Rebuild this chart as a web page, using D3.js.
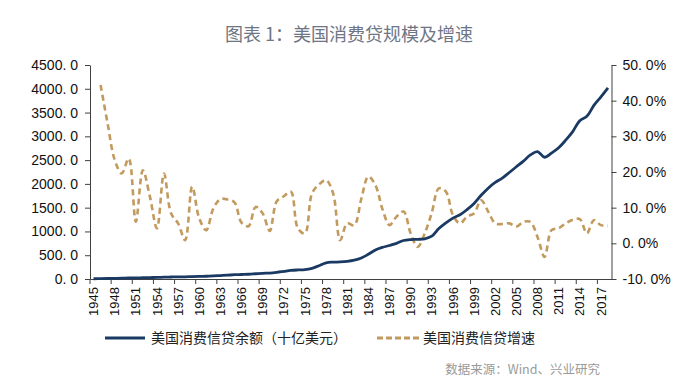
<!DOCTYPE html>
<html>
<head>
<meta charset="utf-8">
<script src="https://cdn.jsdelivr.net/npm/d3@7"></script>
<style>
  body { margin: 0; background: #fff; }
  svg { display: block; font-family: "Liberation Sans", Arial, sans-serif; }
  .cjk { font-family: "Noto Sans CJK SC", sans-serif; }
</style>
</head>
<body>
<div id="chart"></div>
<script>
// categories
const years = d3.range(1945, 2019);

// 美国消费信贷余额（十亿美元）
const balance = [
  5, 8, 11, 14, 17, 21, 22, 27, 31, 33,
  39, 42, 45, 46, 52, 56, 58, 64, 72, 80,
  90, 95, 100, 110, 120, 125, 140, 160, 180, 190,
  196, 225, 280, 340, 355, 358, 370, 395, 440, 520,
  610, 665, 705, 750, 810, 830, 835, 845, 900, 1060,
  1180, 1280, 1350, 1460, 1590, 1760, 1910, 2030, 2120, 2240,
  2360, 2480, 2610, 2680, 2560, 2650, 2760, 2920, 3100, 3330,
  3420, 3650, 3830, 4020
];

// 美国消费信贷增速 (%)
const growth = [
  null, 44.4, 33.6, 23.4, 19.6, 23.8, 6.1, 20.5, 13.1, 4.2,
  19.6, 8.4, 5.6, 0.9, 15.9, 7.0, 3.7, 9.8, 12.4, 12.3,
  11.5, 5.8, 4.8, 10.2, 8.4, 3.5, 11.8, 13.2, 14.5, 4.2,
  2.8, 14.0, 16.5, 17.7, 14.0, 0.9, 5.6, 5.1, 12.5, 18.7,
  16.3, 9.6, 5.1, 7.5, 8.9, 2.8, -1.0, 2.8, 8.6, 15.4,
  14.5, 7.9, 5.6, 7.5, 8.4, 12.1, 8.9, 5.6, 5.4, 5.6,
  4.7, 6.0, 6.0, 1.8, -3.8, 3.7, 4.2, 5.6, 6.6, 6.8,
  2.8, 6.5, 5.1, 4.9
];

const leftTicks = [0, 500, 1000, 1500, 2000, 2500, 3000, 3500, 4000, 4500];
const rightTicks = [-10, 0, 10, 20, 30, 40, 50];
const labelYears = years.filter(y => (y - 1945) % 3 === 0);

const title = "图表 1：美国消费贷规模及增速";
const seriesNames = ["美国消费信贷余额（十亿美元）", "美国消费信贷增速"];
const source = "数据来源：Wind、兴业研究";

const width = 700, height = 384;
const plotLeft = 90, plotRight = 611.5, plotTop = 65, plotBottom = 279;
const blue = "#1b3a63", tan = "#c29a5e", axisColor = "#404040";

let svg = d3.select("#chart").append("svg")
  .attr("width", width)
  .attr("height", height);

let x = d3.scaleBand().domain(years).range([plotLeft, plotRight]).padding(0);
let yL = d3.scaleLinear().domain([0, 4500]).range([plotBottom, plotTop]);
let yR = d3.scaleLinear().domain([-10, 50]).range([plotBottom, plotTop]);
let cx = d => x(d) + x.bandwidth() / 2;

let fmt = f => v => d3.format(f)(v).replace("\u2212", "-").replace(".", ". ");

// title
svg.append("text")
  .attr("class", "cjk")
  .attr("x", 349).attr("y", 41)
  .attr("text-anchor", "middle")
  .attr("font-size", 18)
  .attr("fill", "#6e7686")
  .text(title);

// left axis
let gL = svg.append("g")
  .attr("transform", "translate(" + plotLeft + ",0)")
  .call(d3.axisLeft(yL).tickValues(leftTicks).tickSize(5).tickSizeOuter(0).tickFormat(fmt(".1f")));

// right axis
let gR = svg.append("g")
  .attr("transform", "translate(" + plotRight + ",0)")
  .call(d3.axisRight(yR).tickValues(rightTicks).tickSize(5).tickSizeOuter(0).tickFormat(v => fmt(".1f")(v) + "%"));

// x axis
let gX = svg.append("g")
  .attr("transform", "translate(0," + plotBottom + ")")
  .call(d3.axisBottom(x).tickValues(labelYears).tickSize(5).tickSizeOuter(0));

gX.selectAll(".tick line")
  .attr("x1", -x.bandwidth() / 2)
  .attr("x2", -x.bandwidth() / 2);

gX.selectAll(".tick text")
  .attr("transform", "rotate(-90)")
  .attr("x", -8)
  .attr("y", 0)
  .attr("dy", "0.36em")
  .attr("text-anchor", "end")
  .attr("font-size", 13);

gL.selectAll(".tick text").attr("font-size", 14).attr("x", -12);
gR.selectAll(".tick text").attr("font-size", 14).attr("x", 11);

[gL, gR, gX].forEach(g => {
  g.selectAll("path, line").attr("stroke", axisColor);
  g.selectAll("text").attr("fill", "#111").attr("font-family", "\"Liberation Sans\", Arial, sans-serif");
});

// lines
let lineL = d3.line()
  .x((d, i) => cx(years[i]))
  .y(d => yL(d))
  .curve(d3.curveCatmullRom.alpha(0.5));

let lineR = d3.line()
  .defined(d => d != null)
  .x((d, i) => cx(years[i]))
  .y(d => yR(d))
  .curve(d3.curveCatmullRom.alpha(0.5));

svg.append("path")
  .datum(growth)
  .attr("fill", "none")
  .attr("stroke", tan)
  .attr("stroke-width", 2.6)
  .attr("stroke-dasharray", "6,4")
  .attr("d", lineR);

svg.append("path")
  .datum(balance)
  .attr("fill", "none")
  .attr("stroke", blue)
  .attr("stroke-width", 2.8)
  .attr("d", lineL);

// legend
let legend = svg.append("g");
legend.append("line")
  .attr("x1", 105).attr("x2", 145).attr("y1", 338).attr("y2", 338)
  .attr("stroke", blue).attr("stroke-width", 3);
legend.append("text")
  .attr("class", "cjk")
  .attr("x", 151).attr("y", 343)
  .attr("font-size", 14).attr("fill", "#222")
  .text(seriesNames[0]);
legend.append("line")
  .attr("x1", 377).attr("x2", 421).attr("y1", 338).attr("y2", 338)
  .attr("stroke", tan).attr("stroke-width", 3)
  .attr("stroke-dasharray", "6,3");
legend.append("text")
  .attr("class", "cjk")
  .attr("x", 423).attr("y", 343)
  .attr("font-size", 14).attr("fill", "#222")
  .text(seriesNames[1]);

// source
svg.append("text")
  .attr("class", "cjk")
  .attr("x", 600).attr("y", 374)
  .attr("text-anchor", "end")
  .attr("font-size", 12.5)
  .attr("fill", "#9a9a9a")
  .text(source);
</script>
</body>
</html>
